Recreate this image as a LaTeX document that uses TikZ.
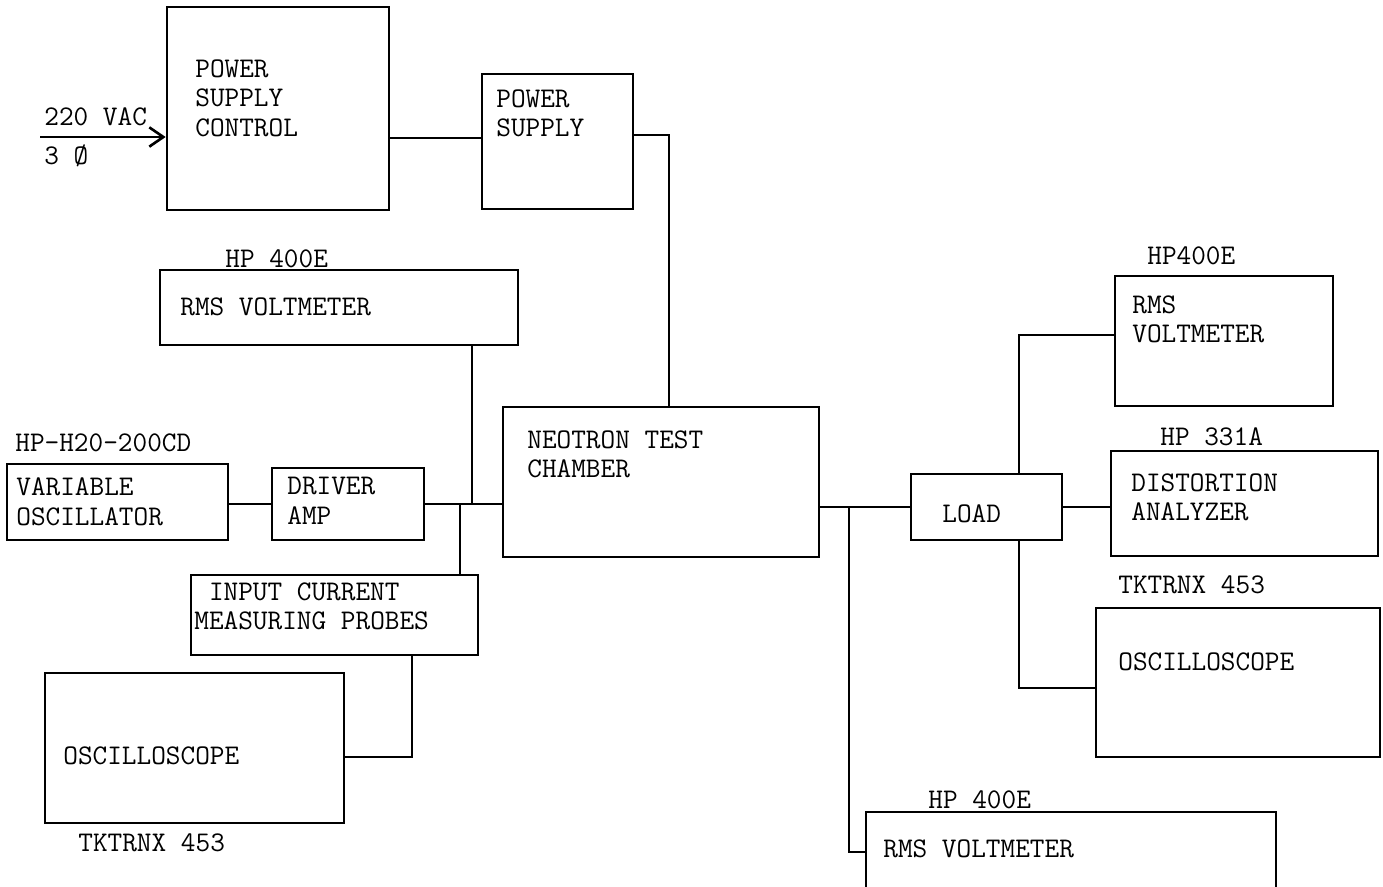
\documentclass[tikz,border=0pt]{standalone}
\usepackage{fontspec}
\usetikzlibrary{fit,arrows.meta}

\tikzset{
  blk/.style={draw, line width=1.5pt, inner sep=0pt},
  txt/.style={anchor=north west, inner sep=0pt, align=left,
    font=\ttfamily\fontsize{16.2pt}{17pt}\selectfont},
  wire/.style={line width=1.5pt}
}

\begin{document}
\begin{tikzpicture}[x=0.02cm, y=-0.02cm]

  \useasboundingbox (0,0) rectangle (1383,886);

  % boxes
  \node[blk, fit={(167,7) (389,210)}] (psc) {};
  \node[blk, fit={(482,74) (633,209)}] (ps) {};
  \node[blk, fit={(160,270) (518,345)}] (rmsL) {};
  \node[blk, fit={(503,407) (819,557)}] (ntc) {};
  \node[blk, fit={(7,464) (228,540)}] (vosc) {};
  \node[blk, fit={(272,468) (424,540)}] (drv) {};
  \node[blk, fit={(191,575) (478,655)}] (icp) {};
  \node[blk, fit={(45,673) (344,823)}] (oscL) {};
  \node[blk, fit={(911,474) (1062,540)}] (load) {};
  \node[blk, fit={(1115,276) (1333,406)}] (rmsR) {};
  \node[blk, fit={(1111,451) (1378,556)}] (dist) {};
  \node[blk, fit={(1096,608) (1380,757)}] (oscR) {};
  \node[blk, fit={(866,812) (1276,892)}] (rmsB) {};

  % texts
  \node[txt] (tPsc) at (195,59) {POWER\\SUPPLY\\CONTROL};
  \node[txt] (tPs) at (496,89) {POWER\\SUPPLY};
  \node[txt] (tVac) at (44,107) {220 VAC};
  \node[txt] (tPh) at (44,144) {3 \O};
  \node[txt] (hpL) at (225,249) {HP 400E};
  \node[txt] (tRmsL) at (180,297) {RMS VOLTMETER};
  \node[txt] (hpOsc) at (15,433) {HP-H20-200CD};
  \node[txt] (tVosc) at (16,477) {VARIABLE\\OSCILLATOR};
  \node[txt] (tDrv) at (287,477) {DRIVER\\AMP};
  \node[txt] (tIcp) at (194,582) {~INPUT CURRENT\\MEASURING PROBES};
  \node[txt] (tOscL) at (63,746) {OSCILLOSCOPE};
  \node[txt] (tkL) at (78,833) {TKTRNX 453};
  \node[txt] (tNtc) at (527,430) {NEOTRON TEST\\CHAMBER};
  \node[txt] (tLoad) at (942,504) {LOAD};
  \node[txt] (hpDist) at (1160,427) {HP 331A};
  \node[txt] (tDist) at (1131,473) {DISTORTION\\ANALYZER};
  \node[txt] (hpR) at (1147,246) {HP400E};
  \node[txt] (tRmsR) at (1132,295) {RMS\\VOLTMETER};
  \node[txt] (tkR) at (1118,575) {TKTRNX 453};
  \node[txt] (tOscR) at (1118,652) {OSCILLOSCOPE};
  \node[txt] (hpB) at (928,790) {HP 400E};
  \node[txt] (tRmsB) at (883,839) {RMS VOLTMETER};

  % tap points
  \coordinate (ac) at (40,137);
  \coordinate (xRms) at (472,0);
  \coordinate (xIcp) at (460,0);
  \coordinate (xOsc) at (412,0);
  \coordinate (xPs) at (669,0);
  \coordinate (xOut) at (849,0);
  \coordinate (xLoad) at (1019,0);

  % connectors
  \draw[wire, -{Straight Barb[length=8pt, width=11pt]}] (ac) -- (ac -| psc.west);
  \draw[wire] ([yshift=0.07cm]ps.west) -- ([yshift=0.07cm]ps.west -| psc.east);
  \draw[wire] ([yshift=0.13cm]ps.east) -| (ntc.north -| xPs);
  \draw[wire] (drv.west) -- (drv.west -| vosc.east);
  \draw[wire] (drv.east) -- (drv.east -| ntc.west);
  \draw[wire] (rmsL.south -| xRms) -- (drv.east -| xRms);
  \draw[wire] (drv.east -| xIcp) -- (icp.north -| xIcp);
  \draw[wire] (icp.south -| xOsc) |- ([yshift=-0.18cm]oscL.east);
  \draw[wire] (load.west) -- (load.west -| ntc.east);
  \draw[wire] (load.west -| xOut) |- (rmsB.west);
  \draw[wire] (load.east) -- (load.east -| dist.west);
  \draw[wire] (load.north -| xLoad) |- ([yshift=0.12cm]rmsR.west);
  \draw[wire] (load.south -| xLoad) |- ([yshift=-0.11cm]oscR.west);

\end{tikzpicture}
\end{document}
